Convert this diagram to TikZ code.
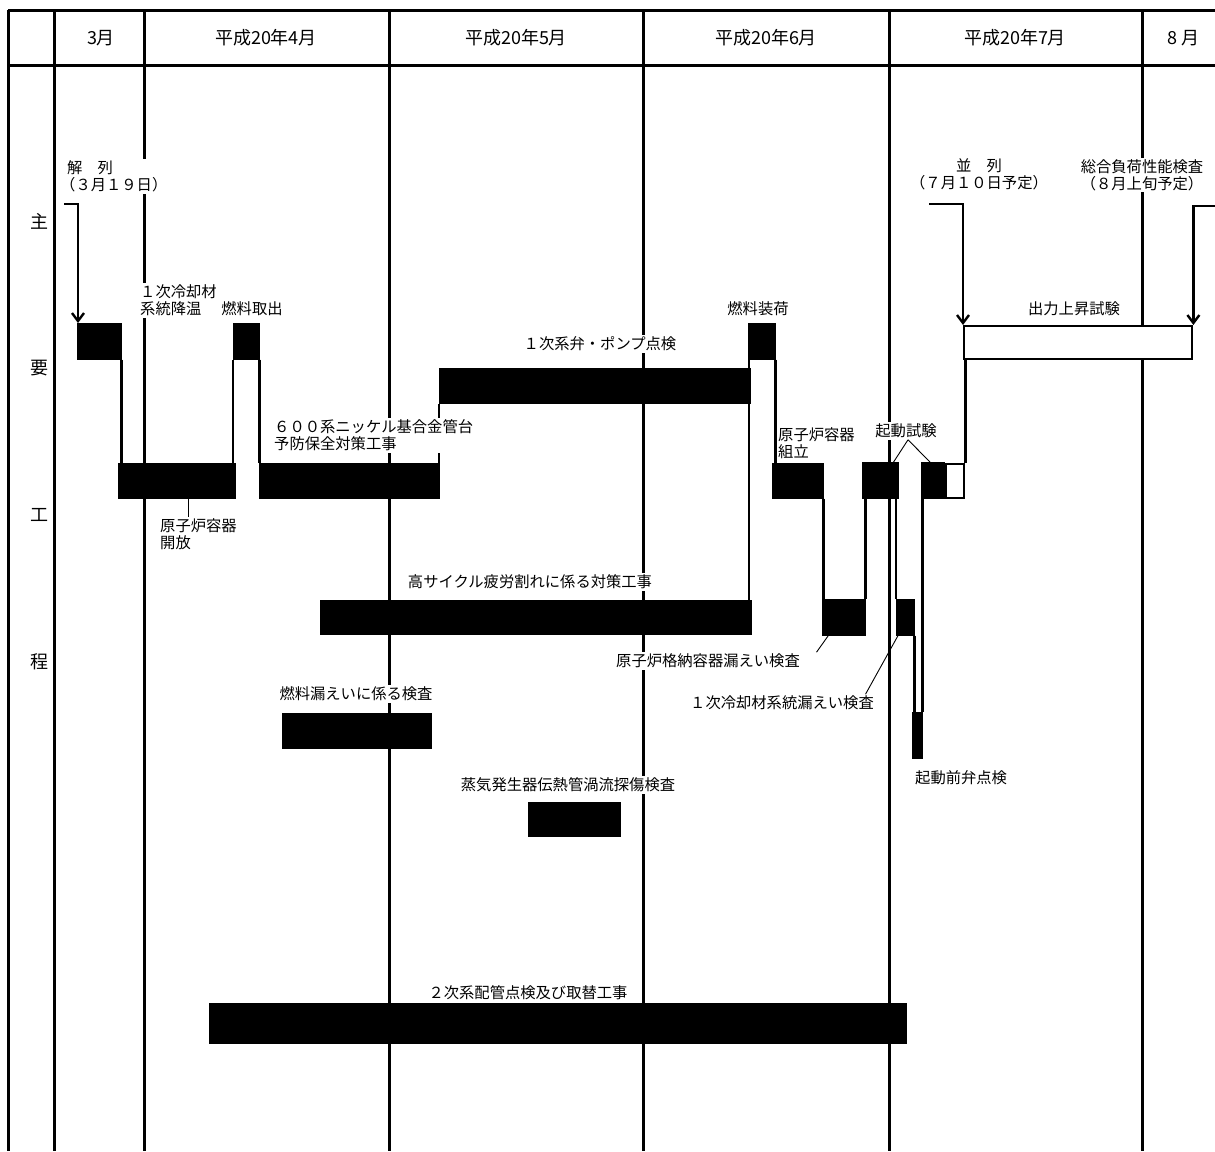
\documentclass[tikz,border=0pt]{standalone}
\usepackage{fontspec}
\newfontfamily\jpfont{Noto Sans CJK JP}
\usetikzlibrary{arrows.meta, positioning}

\begin{document}
\begin{tikzpicture}[x=1pt, y=-1pt,
  bar/.style={fill=black, draw=black, line width=0.6pt, inner sep=0pt, anchor=north west},
  openbar/.style={fill=white, draw=black, line width=2.4pt, inner sep=0pt, anchor=north west},
  lbl/.style={font=\jpfont\fontsize{15.3}{17}\selectfont, fill=white, inner sep=1.5pt, align=left},
  head/.style={font=\jpfont\fontsize{18}{20}\selectfont},
  link/.style={line width=2.4pt},
  lead/.style={line width=0.9pt},
  arr/.style={line width=2.4pt, -{Straight Barb[length=8pt, width=12pt, line width=2.4pt]}},
  grid/.style={line width=3pt}]
\useasboundingbox (0,0) rectangle (1215,1151);

% table frame and month columns
\draw[grid] (8,10) -- (1215,10);
\draw[grid] (8,65) -- (1215,65);
\foreach \x in {8,54,144,389,643,889,1142}
  \draw[grid] (\x,10) -- (\x,1151);

\node[head] (m3) at (101,38) {3月};
\node[head] (m4) at (266,38) {平成20年4月};
\node[head] (m5) at (516,38) {平成20年5月};
\node[head] (m6) at (766,38) {平成20年6月};
\node[head] (m7) at (1015,38) {平成20年7月};
\node[head] (m8) at (1183,38) {8 月};

\node[head] (rowA) at (39,221) {主};
\node[head] (rowB) at (39,368) {要};
\node[head] (rowC) at (39,515) {工};
\node[head] (rowD) at (39,662) {程};

% main line
\node[bar, minimum width=44pt, minimum height=36pt] (cool) at (77,323) {};
\node[bar, minimum width=117pt, minimum height=35pt] (open) at (118,463) {};
\node[bar, minimum width=26pt, minimum height=36pt] (defuel) at (233,323) {};
\node[bar, minimum width=180pt, minimum height=35pt] (nozzle) at (259,463) {};
\node[bar, minimum width=311pt, minimum height=35pt] (pump) at (439,368) {};
\node[bar, minimum width=431pt, minimum height=34pt] (fatigue) at (320,600) {};
\node[bar, minimum width=27pt, minimum height=36pt] (reload) at (748,323) {};
\node[bar, minimum width=51pt, minimum height=35pt] (assy) at (772,463) {};
\node[bar, minimum width=43pt, minimum height=36pt] (cvleak) at (822,599) {};
\node[bar, minimum width=36pt, minimum height=36pt] (start1) at (862,462) {};
\node[bar, minimum width=18pt, minimum height=36pt] (rcsleak) at (896,599) {};
\node[bar, minimum width=10pt, minimum height=46pt] (valve) at (912,712) {};
\node[bar, minimum width=23pt, minimum height=36pt] (start2) at (921,462) {};
\node[openbar, minimum width=18pt, minimum height=34pt] (start2w) at (945,463) {};
\node[openbar, minimum width=228pt, minimum height=33pt] (power) at (963,325) {};

% other work
\node[bar, minimum width=149pt, minimum height=35pt] (fuelleak) at (282,713) {};
\node[bar, minimum width=92pt, minimum height=34pt] (ect) at (528,802) {};
\node[bar, minimum width=697pt, minimum height=40pt] (secondary) at (209,1003) {};

% links between steps
\draw[link] (cool.south east) -- (cool.south east |- open.north);
\draw[link] (defuel.south west) -- (defuel.south west |- open.north);
\draw[link] (defuel.south east) -- (defuel.south east |- nozzle.north);
\draw[link] (pump.south west) -- (pump.south west |- nozzle.north);
\draw[link] ([xshift=1pt]reload.south west) -- ([xshift=1pt]reload.south west |- fatigue.north);
\draw[link] (reload.south east) -- (reload.south east |- assy.north);
\draw[link] (assy.south east) -- (assy.south east |- cvleak.north);
\draw[link] (cvleak.north east) -- (cvleak.north east |- start1.south);
\draw[link] (rcsleak.north west) -- (rcsleak.north west |- start1.south);
\draw[link] (rcsleak.south east) -- (rcsleak.south east |- valve.north);
\draw[link] (valve.north east) -- (valve.north east |- start2.south);
\draw[link] (start2w.north east) -- (start2w.north east |- power.south);

% labels
\node[lbl, anchor=west] (kaiLbl) at (58.5,176.5) {\hspace*{0.45em}解　列\\（３月１９日）};
\node[lbl, align=center] (heiLbl) at (979,174) {並　列\\（７月１０日予定）};
\node[lbl, align=center] (sogoLbl) at (1142,175) {総合負荷性能検査\\（８月上旬予定）};
\node[lbl, anchor=west] (coolLbl) at (138.5,300.5) {１次冷却材\\系統降温};
\node[lbl] (defuelLbl) at (252,309) {燃料取出};
\node[lbl, anchor=west] (openLbl) at (158.5,534) {原子炉容器\\開放};
\node[lbl, anchor=west] (nozzleLbl) at (272.5,435.5) {６００系ニッケル基合金管台\\予防保全対策工事};
\node[lbl] (pumpLbl) at (600,344) {１次系弁・ポンプ点検};
\node[lbl] (reloadLbl) at (758,309) {燃料装荷};
\node[lbl] (powerLbl) at (1074,309) {出力上昇試験};
\node[lbl, anchor=west] (assyLbl) at (776.5,443.5) {原子炉容器\\組立};
\node[lbl] (startLbl) at (906,431) {起動試験};
\node[lbl] (fatigueLbl) at (530,582) {高サイクル疲労割れに係る対策工事};
\node[lbl] (cvLbl) at (708,661) {原子炉格納容器漏えい検査};
\node[lbl] (rcsLbl) at (782,703) {１次冷却材系統漏えい検査};
\node[lbl, anchor=west] (valveLbl) at (913.5,778) {起動前弁点検};
\node[lbl] (fuelleakLbl) at (356,694) {燃料漏えいに係る検査};
\node[lbl] (ectLbl) at (568,785) {蒸気発生器伝熱管渦流探傷検査};
\node[lbl] (secLbl) at (528,993) {２次系配管点検及び取替工事};

% leaders
\draw[lead] ([xshift=11.5pt]open.south) -- ([xshift=11.5pt]open.south |- openLbl.north);
\draw[lead] ([xshift=-15.5pt]cvleak.south) -- ([xshift=15pt]cvLbl.north east);
\draw[lead] ([xshift=2pt]rcsleak.south west) -- ([xshift=-10pt]rcsLbl.north east);
\draw[lead] ([xshift=2pt]startLbl.south) -- ([xshift=-5pt]start1.north east);
\draw[lead] ([xshift=2pt]startLbl.south) -- ([xshift=9pt]start2.north west);

% parallel off / on
\coordinate (kaiS) at (64,204);
\coordinate (heiS) at (929,204);
\coordinate (sogoS) at (1217,206);
\draw[arr] (kaiS) -| ([xshift=1pt]cool.north west);
\draw[arr] (heiS) -| (power.north west);
\draw[arr] (sogoS) -| (power.north east);
\end{tikzpicture}
\end{document}
